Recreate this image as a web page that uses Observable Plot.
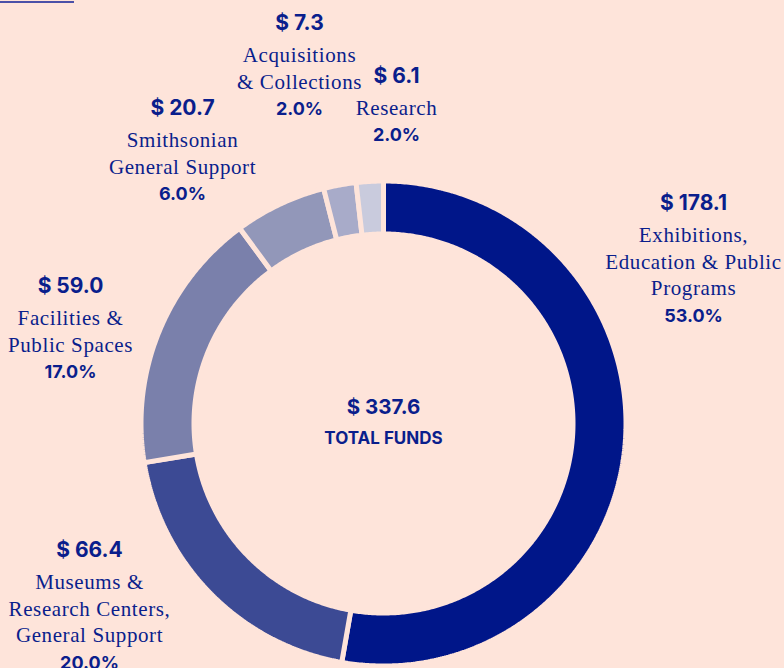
<!DOCTYPE html>
<html><head><meta charset="utf-8">
<script src="https://cdn.jsdelivr.net/npm/d3@7"></script>
<script src="https://cdn.jsdelivr.net/npm/@observablehq/plot@0.6"></script>
<style>
html,body{margin:0;padding:0;background:#fee4da;}
#wrap{position:relative;width:784px;height:668px;overflow:hidden;}
#rule{position:absolute;left:0;top:1px;width:74px;height:2px;background:#4b50a8;}
#wrap svg{display:block;}
</style></head><body><div id="wrap"><div id="rule"></div></div>
<script>
// ---- data ----
const categories = [
  "Exhibitions, Education & Public Programs",
  "Museums & Research Centers, General Support",
  "Facilities & Public Spaces",
  "Smithsonian General Support",
  "Acquisitions & Collections",
  "Research"
];
const labelLines = [
  ["Exhibitions,", "Education & Public", "Programs"],
  ["Museums &", "Research Centers,", "General Support"],
  ["Facilities &", "Public Spaces"],
  ["Smithsonian", "General Support"],
  ["Acquisitions", "& Collections"],
  ["Research"]
];
const amounts = [178.1, 66.4, 59.0, 20.7, 7.3, 6.1];
const percents = ["53.0%", "20.0%", "17.0%", "6.0%", "2.0%", "2.0%"];
const totalAmount = 337.6;
const totalLabel = "TOTAL FUNDS";

// ---- styles / layout ----
const colors = ["#001689", "#3c4a94", "#7a80ab", "#9297b9", "#a8abc9", "#c9cbdd"];
const bg = "#fee4da";
const ink = "#0a1e8c";
const W = 784, H = 668, CX = 383, CY = 423;
const R0 = 192, R1 = 240, GAP = 5;
// label anchors (pixel offsets from the ring centre) for the amount line of each label
const labelAnchors = [[310, -220], [-294, 127], [-313, -137], [-201, -315], [-84, -400], [13, -347]];

// ---- slice outlines from the values ----
const pie = d3.pie().sort(null).value(d => d)(amounts);
const slicePts = [];
pie.forEach((p, i) => {
  const span = p.endAngle - p.startAngle;
  const n = Math.max(2, Math.ceil(span / (Math.PI / 360)));
  const ring = [];
  for (let k = 0; k <= n; k++) ring.push([p.startAngle + span * k / n, R1 + GAP / 2]);
  for (let k = n; k >= 0; k--) ring.push([p.startAngle + span * k / n, R0 - GAP / 2]);
  ring.push(ring[0]);
  ring.forEach(([a, r]) => slicePts.push({key: categories[i], x: r * Math.sin(a), y: -r * Math.cos(a)}));
});

// ---- label rows ----
const amountRows = [], lineRows = [], pctRows = [];
categories.forEach((c, i) => {
  const [ax, ay] = labelAnchors[i];
  amountRows.push({x: ax, y: ay, text: "$ " + amounts[i].toFixed(1)});
  labelLines[i].forEach((t, j) => lineRows.push({x: ax, y: ay + 32 + j * 26.6, text: t}));
  pctRows.push({x: ax, y: ay + 32 + labelLines[i].length * 26.6 + 0.5, text: percents[i]});
});

const chart = Plot.plot({
  width: W, height: H,
  margin: 0,
  x: {domain: [-CX, W - CX], range: [0, W], axis: null},
  y: {domain: [-CY, H - CY], range: [0, H], axis: null},
  color: {domain: categories, range: colors},
  style: {background: "transparent"},
  marks: [
    Plot.line(slicePts, {x: "x", y: "y", z: "key", fill: "key", stroke: bg, strokeWidth: GAP, strokeLinejoin: "miter", curve: "linear"}),
    Plot.text(amountRows, {x: "x", y: "y", text: "text", fill: ink, fontFamily: "Inter", fontWeight: 700, fontSize: 21}),
    Plot.text(lineRows, {x: "x", y: "y", text: "text", fill: ink, fontFamily: "Liberation Serif", fontSize: 21}),
    Plot.text(pctRows, {x: "x", y: "y", text: "text", fill: ink, fontFamily: "Inter", fontWeight: 700, fontSize: 18}),
    Plot.text([totalAmount], {x: () => 0, y: () => -16, text: d => "$ " + d.toFixed(1), fill: ink, fontFamily: "Inter", fontWeight: 700, fontSize: 20.5}),
    Plot.text([totalLabel], {x: () => 0, y: () => 15, text: d => d, fill: ink, fontFamily: "Inter", fontWeight: 700, fontSize: 17})
  ]
});
// slightly open up the serif label lettering
d3.select(chart).selectAll('g[font-family="Liberation Serif"]').attr("letter-spacing", "0.6px");
document.getElementById("wrap").appendChild(chart);
</script>
</body></html>
